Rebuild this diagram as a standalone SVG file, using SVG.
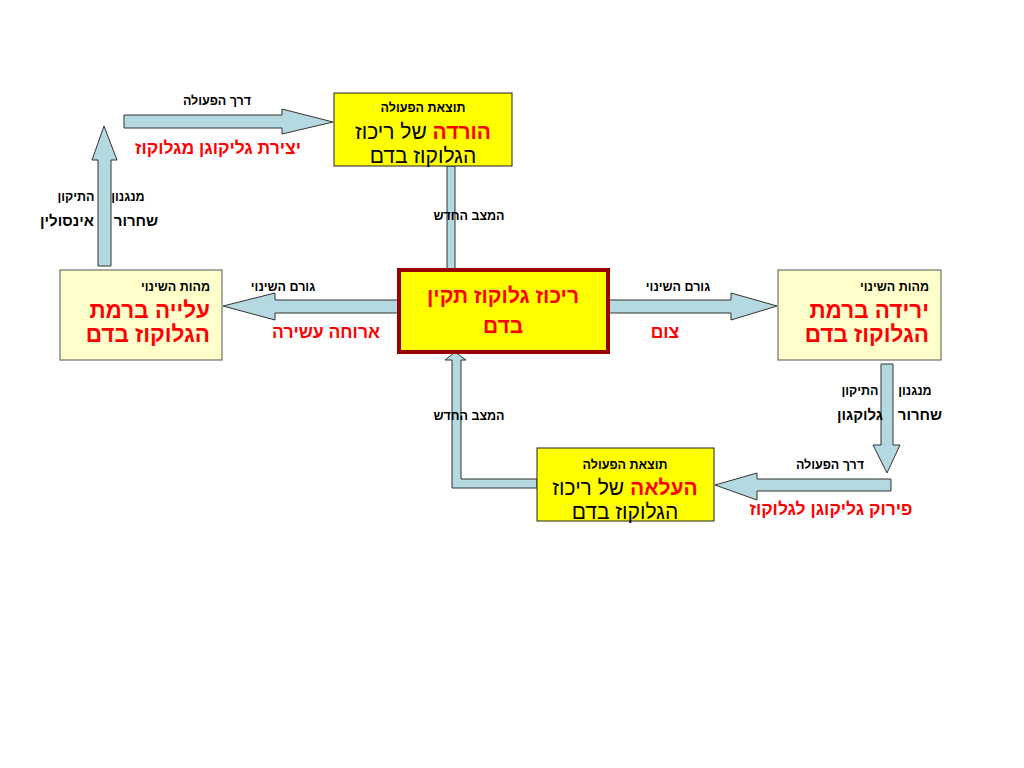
<svg xmlns="http://www.w3.org/2000/svg" width="1024" height="768" viewBox="0 0 1024 768">
<style>
text{font-family:"Liberation Sans","DejaVu Sans",Arial,sans-serif;direction:rtl}
.arrow{fill:#B4D9E0;stroke:#333;stroke-width:1}
.lbl{font-size:12.5px;font-weight:bold;fill:#000}
.mid{font-size:15px;font-weight:bold;fill:#000}
.red{font-size:17.5px;font-weight:bold;fill:#FF0000}
.big{font-size:21px;font-weight:bold;fill:#FF0000}
.side{font-size:22.5px;font-weight:bold;fill:#FF0000}
.res{font-size:21px;fill:#000}
.c{text-anchor:middle}
.r{text-anchor:start}
.yb{fill:#FFFF00;stroke:#222;stroke-width:1}
.lb{fill:#FFFFCC;stroke:#555;stroke-width:1}
</style>
<rect width="1024" height="768" fill="#FFFFFF"/>
<g id="connectors">
<polygon class="arrow" points="124,115 282,115 282,109 333,122 282,134 282,128 124,128"/>
<polygon class="arrow" points="98,266 98,160 92,160 104,126 117,160 111,160 111,266"/>
<rect class="arrow" x="447" y="166" width="8" height="103"/>
<polygon class="arrow" points="398,300 275,300 275,293 223,306 275,320 275,313 398,313"/>
<polygon class="arrow" points="609,300 731,300 731,293 777,306 731,320 731,313 609,313"/>
<polygon class="arrow" points="881,364 893,364 893,445 900,445 887,473 873,445 881,445"/>
<polygon class="arrow" points="891,479 891,491 757,491 757,500 715,485 757,473 757,479"/>
<polygon class="arrow" points="537,479 461,479 461,360 466,360 455,352 445,360 452,360 452,488 537,488"/>
<text class="lbl c" x="217" y="105">דרך הפעולה</text>
<text class="red c" x="218" y="154">יצירת גליקוגן מגלוקוז</text>
<text class="lbl c" x="128" y="201">מנגנון</text>
<text class="lbl c" x="76" y="201">התיקון</text>
<text class="mid c" x="136" y="226">שחרור</text>
<text class="mid c" x="67" y="226">אינסולין</text>
<text class="lbl c" x="469" y="220">המצב  החדש</text>
<text class="lbl c" x="283" y="291">גורם  השינוי</text>
<text class="red c" x="326" y="338">ארוחה עשירה</text>
<text class="lbl c" x="678" y="291">גורם  השינוי</text>
<text class="red c" x="665" y="338">צום</text>
<text class="lbl c" x="915" y="395">מנגנון</text>
<text class="lbl c" x="860" y="395">התיקון</text>
<text class="mid c" x="920" y="420">שחרור</text>
<text class="mid c" x="860" y="420">גלוקגון</text>
<text class="lbl c" x="830" y="469">דרך הפעולה</text>
<text class="red c" x="831" y="515">פירוק גליקוגן לגלוקוז</text>
<text class="lbl c" x="469" y="420">המצב  החדש</text>
</g>
<g id="node-top">
<rect class="yb" x="334" y="93" width="178" height="73"/>
<text class="lbl c" x="423" y="112">תוצאת הפעולה</text>
<text class="res c" x="423" y="139"><tspan font-weight="bold" fill="#FF0000">הורדה</tspan> של ריכוז</text>
<text class="res c" x="423" y="163">הגלוקוז בדם</text>
</g>
<g id="node-center">
<rect x="399" y="270" width="209" height="82" fill="#FFFF00" stroke="#990000" stroke-width="4"/>
<text class="big c" x="503" y="303">ריכוז גלוקוז תקין</text>
<text class="big c" x="503" y="333">בדם</text>
</g>
<g id="node-left">
<rect class="lb" x="60" y="270" width="162" height="90"/>
<text class="lbl r" x="210" y="291">מהות השינוי</text>
<text class="side r" x="210" y="318">עלייה  ברמת</text>
<text class="side r" x="210" y="342">הגלוקוז  בדם</text>
</g>
<g id="node-right">
<rect class="lb" x="778" y="270" width="163" height="90"/>
<text class="lbl r" x="929" y="291">מהות השינוי</text>
<text class="side r" x="929" y="318">ירידה  ברמת</text>
<text class="side r" x="929" y="342">הגלוקוז  בדם</text>
</g>
<g id="node-bottom">
<rect class="yb" x="537" y="448" width="177" height="73"/>
<text class="lbl c" x="625" y="469">תוצאת הפעולה</text>
<text class="res c" x="625" y="495"><tspan font-weight="bold" fill="#FF0000">העלאה</tspan> של ריכוז</text>
<text class="res c" x="625" y="519">הגלוקוז בדם</text>
</g>
</svg>
